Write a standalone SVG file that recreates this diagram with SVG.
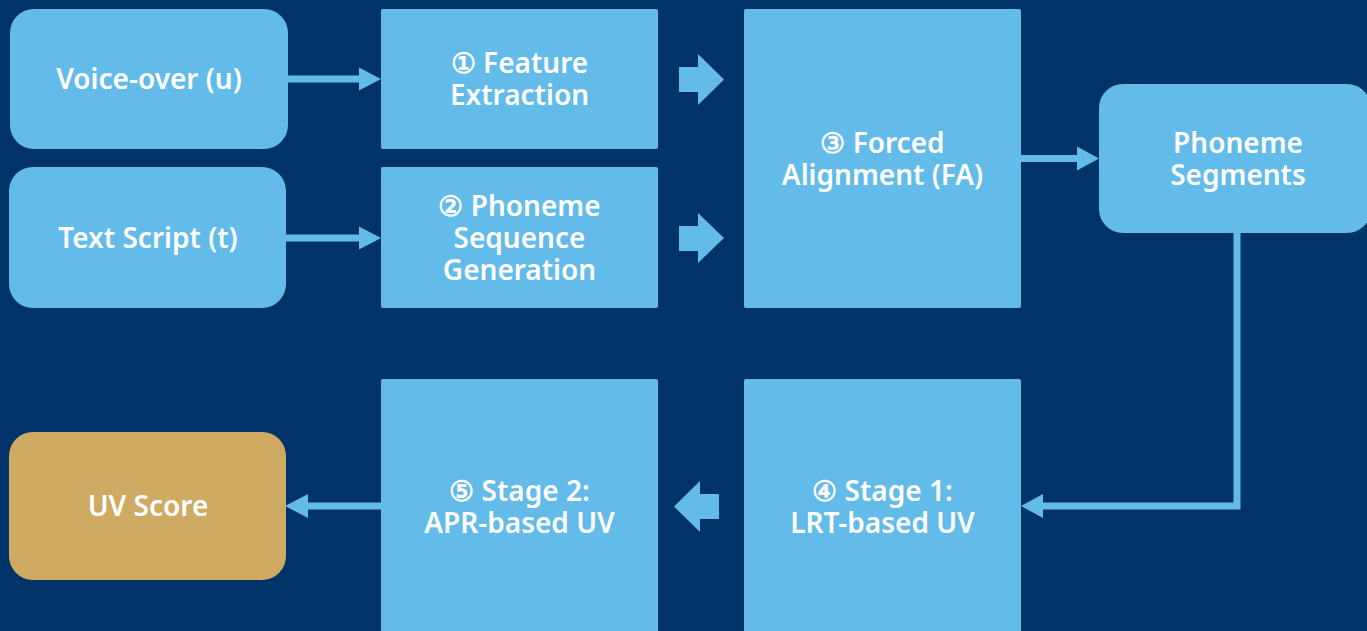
<svg xmlns="http://www.w3.org/2000/svg" width="1367" height="631" viewBox="0 0 1367 631">
<defs>
<style>
.box{fill:#63BBE9}
.gold{fill:#CFAA62}
.t{font-family:"Noto Sans","Liberation Sans",sans-serif;font-weight:600;font-size:28px;fill:#FFFFFF;text-anchor:middle}
.ln{stroke:#63BBE9;stroke-width:7;fill:none}
.ah{fill:#63BBE9}
</style>
</defs>
<rect x="0" y="0" width="1367" height="631" fill="#003468"/>
<g id="voiceover">
<rect class="box" x="10" y="9" width="278" height="140" rx="24"/>
<text class="t" x="149" y="89">Voice-over (u)</text>
</g>
<g id="textscript">
<rect class="box" x="9" y="167" width="277" height="141" rx="24"/>
<text class="t" x="148" y="248">Text Script (t)</text>
</g>
<g id="feature">
<rect class="box" x="381" y="9" width="277" height="140" rx="2"/>
<text class="t" x="519.5" y="73">① Feature</text>
<text class="t" x="519.5" y="105">Extraction</text>
</g>
<g id="phonseq">
<rect class="box" x="381" y="167" width="277" height="141" rx="2"/>
<text class="t" x="519.5" y="216">② Phoneme</text>
<text class="t" x="519.5" y="248">Sequence</text>
<text class="t" x="519.5" y="280">Generation</text>
</g>
<g id="fa">
<rect class="box" x="744" y="9" width="277" height="299" rx="2"/>
<text class="t" x="882.5" y="153">③ Forced</text>
<text class="t" x="882.5" y="185">Alignment (FA)</text>
</g>
<g id="segments">
<rect class="box" x="1099" y="84" width="272" height="149" rx="24"/>
<text class="t" x="1238" y="153">Phoneme</text>
<text class="t" x="1238" y="185">Segments</text>
</g>
<g id="stage1">
<rect class="box" x="744" y="379" width="277" height="262" rx="2"/>
<text class="t" x="882.5" y="501">④ Stage 1:</text>
<text class="t" x="882.5" y="533">LRT-based UV</text>
</g>
<g id="stage2">
<rect class="box" x="381" y="379" width="277" height="262" rx="2"/>
<text class="t" x="519.5" y="501">⑤ Stage 2:</text>
<text class="t" x="519.5" y="533">APR-based UV</text>
</g>
<g id="uvscore">
<rect class="gold" x="9" y="432" width="277" height="148" rx="24"/>
<text class="t" x="148" y="516">UV Score</text>
</g>
<g id="connectors">
<line class="ln" x1="288" y1="79" x2="362" y2="79"/>
<polygon class="ah" points="359,67.5 381,79 359,90.5"/>
<line class="ln" x1="286" y1="238" x2="362" y2="238"/>
<polygon class="ah" points="359,226.5 381,238 359,249.5"/>
<polygon class="ah" points="679,67 698,67 698,54 724,79.5 698,105 698,92 679,92"/>
<polygon class="ah" points="679,226 698,226 698,213 724,238 698,263 698,251 679,251"/>
<line class="ln" x1="1021" y1="158.5" x2="1080" y2="158.5"/>
<polygon class="ah" points="1077,146.5 1099,158.5 1077,170.5"/>
<polyline class="ln" points="1237,233 1237,506 1040,506"/>
<polygon class="ah" points="1043,494 1021,506 1043,518"/>
<polygon class="ah" points="719,494 700,494 700,481 674,506.5 700,532 700,519 719,519"/>
<line class="ln" x1="381" y1="506" x2="305" y2="506"/>
<polygon class="ah" points="308,494 285,506 308,518"/>
</g>
</svg>
